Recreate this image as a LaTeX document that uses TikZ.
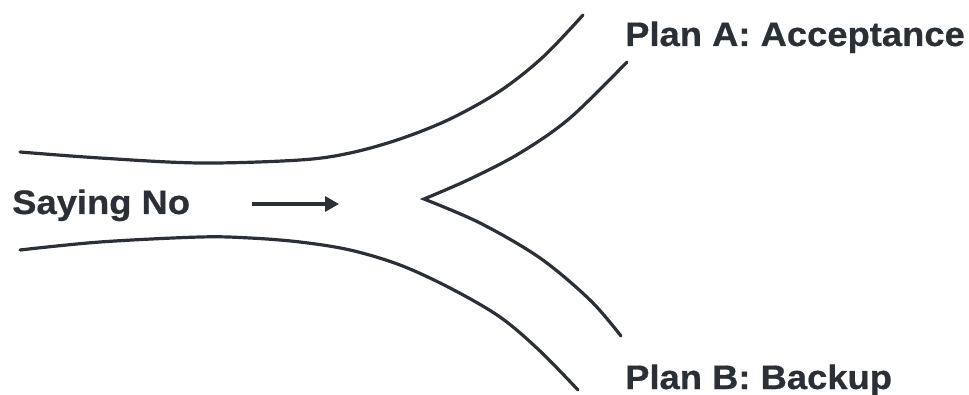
\documentclass[tikz,border=0pt]{standalone}
\usepackage{fontspec}
\newfontfamily\lab{Liberation Sans}[FakeStretch=1.07,FakeBold=0.6]
\usetikzlibrary{arrows.meta}
\definecolor{ink}{HTML}{2B3036}
\begin{document}
\begin{tikzpicture}[x=1pt,y=-1pt,
  curve/.style={draw=ink,line width=3.2pt,line cap=round,line join=miter},
  lbl/.style={inner sep=0pt,anchor=base west,text=ink,font=\lab\bfseries\fontsize{34}{38}\selectfont}]
\useasboundingbox (0,0) rectangle (969,395);
% channel walls
\draw[curve] plot[smooth,tension=0.55] coordinates {(20,152) (100,158) (200,163) (300,160) (350,153) (400,139) (450,119) (500,91) (543,57) (583,15)};
\draw[curve] plot[smooth,tension=0.55] coordinates {(20,250) (100,242) (200,237) (250,238) (300,242) (350,250) (400,265) (450,288) (500,317) (540,351) (578,390)};
% fork
\draw[curve] plot[smooth,tension=0.55] coordinates {(627,62) (570,118) (520,153) (470,179) (424,199)}
  -- plot[smooth,tension=0.55] coordinates {(424,199) (480,223) (540,258) (590,300) (621,336)};
% labels
\node[lbl] (say) at (12,214) {Saying No};
\node[lbl] (pa) at (625,46) {Plan A: Acceptance};
\node[lbl] (pb) at (625,389) {Plan B: Backup};
% arrow
\coordinate (as) at (252,204);
\coordinate (ae) at (339,204);
\draw[ink,line width=3.2pt,-{Triangle[length=14pt,width=15pt]}] (as) -- (ae);
\end{tikzpicture}
\end{document}
